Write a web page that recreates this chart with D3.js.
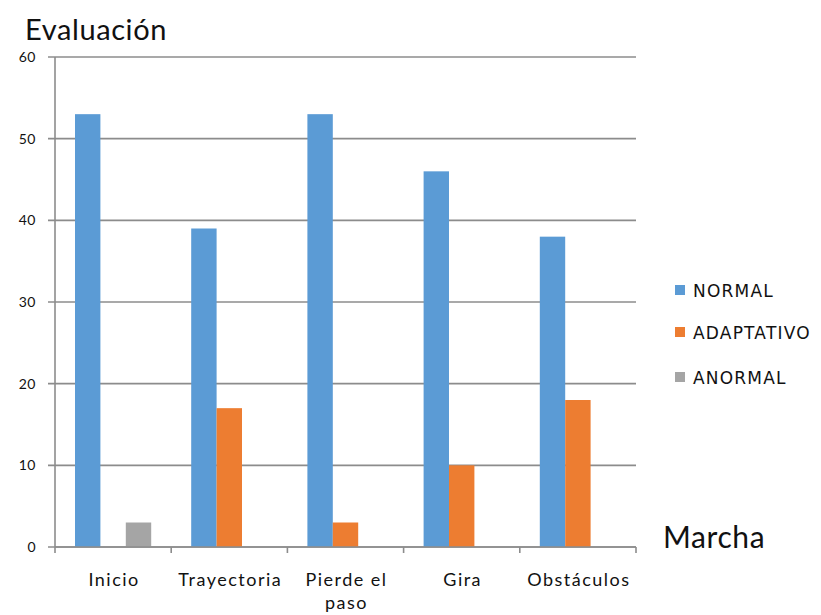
<!DOCTYPE html>
<html>
<head>
<meta charset="utf-8">
<script src="https://cdn.jsdelivr.net/npm/d3@7"></script>
<style>
  body { margin: 0; background: #fff; }
  svg { display: block; }
</style>
</head>
<body>
<svg width="821" height="615"></svg>
<script>
var categories = ["Inicio", "Trayectoria", "Pierde el paso", "Gira", "Obstáculos"];
var seriesNames = ["NORMAL", "ADAPTATIVO", "ANORMAL"];
var normal = [53, 39, 53, 46, 38];
var adaptativo = [0, 17, 3, 10, 18];
var anormal = [3, 0, 0, 0, 0];
var yTicks = [0, 10, 20, 30, 40, 50, 60];
var colors = ["#5b9bd5", "#ed7d31", "#a5a5a5"];

var values = [normal, adaptativo, anormal];

var svg = d3.select("svg"),
    plotLeft = 55, plotRight = 636, plotTop = 57, plotBottom = 547,
    font = "Lato, 'Open Sans', sans-serif";

var x0 = d3.scaleBand().domain(categories).range([plotLeft, plotRight]).padding(0);
var x1 = d3.scaleBand().domain(seriesNames).range([20, x0.bandwidth() - 20]).padding(0);
var y = d3.scaleLinear().domain([0, 60]).range([plotBottom, plotTop]);

// gridlines
svg.append("g")
   .selectAll("line")
   .data(yTicks)
   .enter().append("line")
   .attr("x1", plotLeft - 7)
   .attr("x2", plotRight)
   .attr("y1", function(d) { return y(d); })
   .attr("y2", function(d) { return y(d); })
   .attr("stroke", "#8c8c8c")
   .attr("stroke-width", 1.6);

// y labels
svg.append("g")
   .selectAll("text")
   .data(yTicks)
   .enter().append("text")
   .attr("x", 36)
   .attr("y", function(d) { return y(d) + 5; })
   .attr("text-anchor", "end")
   .attr("font-family", font)
   .attr("font-size", "14px")
   .attr("letter-spacing", "0.5px")
   .attr("fill", "#111")
   .text(function(d) { return d; });

// bars
var rows = [];
categories.forEach(function(c, i) {
    seriesNames.forEach(function(s, j) {
        rows.push({ cat: c, name: s, value: values[j][i], color: colors[j] });
    });
});

svg.append("g")
   .selectAll("rect")
   .data(rows.filter(function(d) { return d.value > 0; }))
   .enter().append("rect")
   .attr("x", function(d) { return x0(d.cat) + x1(d.name); })
   .attr("y", function(d) { return y(d.value); })
   .attr("width", x1.bandwidth())
   .attr("height", function(d) { return plotBottom - y(d.value); })
   .attr("fill", function(d) { return d.color; });

// y axis line
svg.append("line")
   .attr("x1", plotLeft).attr("x2", plotLeft)
   .attr("y1", plotTop).attr("y2", plotBottom)
   .attr("stroke", "#8c8c8c")
   .attr("stroke-width", 1.6);

// x axis ticks at band edges
var bounds = categories.map(function(c) { return x0(c); }).concat([plotRight]);
svg.append("g")
   .selectAll("line")
   .data(bounds)
   .enter().append("line")
   .attr("x1", function(d) { return d; })
   .attr("x2", function(d) { return d; })
   .attr("y1", plotBottom)
   .attr("y2", plotBottom + 6)
   .attr("stroke", "#8c8c8c")
   .attr("stroke-width", 1.6);

svg.append("line")
   .attr("x1", plotLeft).attr("x2", plotRight)
   .attr("y1", plotBottom).attr("y2", plotBottom)
   .attr("stroke", "#8c8c8c")
   .attr("stroke-width", 1.6);

// category labels (wrap "Pierde el paso")
var labels = svg.append("g")
   .selectAll("text")
   .data(categories)
   .enter().append("text")
   .attr("y", 586)
   .attr("text-anchor", "middle")
   .attr("font-family", font)
   .attr("font-size", "18px")
   .attr("letter-spacing", "1.5px")
   .attr("fill", "#111");

labels.each(function(d) {
    var t = d3.select(this);
    var lines = d === "Pierde el paso" ? ["Pierde el", "paso"] : [d];
    lines.forEach(function(l, k) {
        t.append("tspan")
         .attr("x", x0(d) + x0.bandwidth() / 2 + 1)
         .attr("dy", k === 0 ? 0 : 23)
         .text(l);
    });
});

// axis titles
svg.append("text")
   .attr("x", 25).attr("y", 40)
   .attr("font-family", font)
   .attr("font-size", "29px")
   .attr("letter-spacing", "0.6px")
   .attr("fill", "#111")
   .text("Evaluación");

svg.append("text")
   .attr("x", 663).attr("y", 548)
   .attr("font-family", font)
   .attr("font-size", "30px")
   .attr("letter-spacing", "0.6px")
   .attr("fill", "#111")
   .text("Marcha");

// legend
var legendY = [290, 332, 377];
var legend = svg.append("g")
   .selectAll("g")
   .data(seriesNames)
   .enter().append("g")
   .attr("transform", function(d, i) { return "translate(675," + legendY[i] + ")"; });

legend.append("rect")
   .attr("x", 0).attr("y", -5)
   .attr("width", 10).attr("height", 10)
   .attr("fill", function(d, i) { return colors[i]; });

legend.append("text")
   .attr("x", 18).attr("y", 7)
   .attr("font-family", "'DejaVu Sans', Verdana, sans-serif")
   .attr("font-size", "17px")
   .attr("letter-spacing", "1.2px")
   .attr("fill", "#111")
   .text(function(d) { return d; });
</script>
</body>
</html>
